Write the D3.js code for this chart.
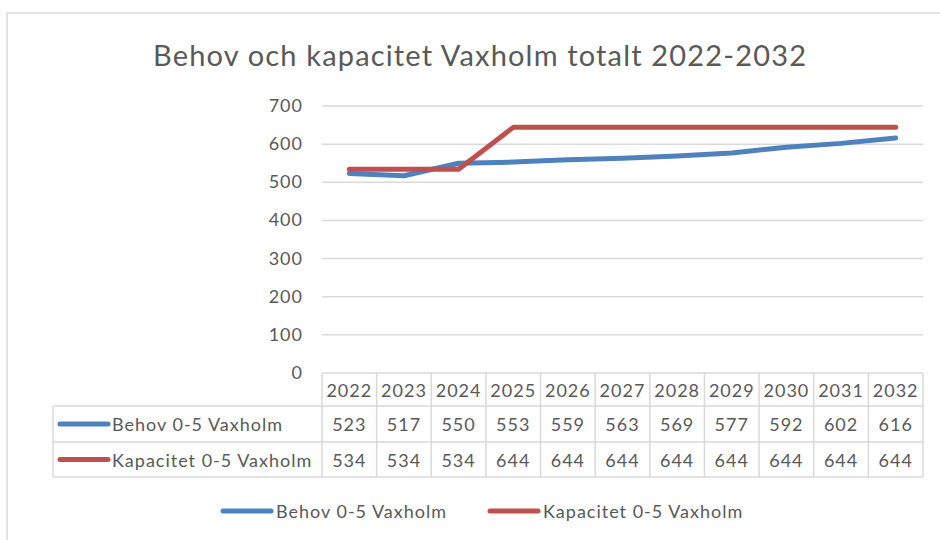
<!DOCTYPE html>
<html>
<head>
<meta charset="utf-8">
<script src="https://cdn.jsdelivr.net/npm/d3@7"></script>
<style>
  body { margin: 0; background: #fff; }
  text { font-family: Lato, "Open Sans", sans-serif; fill: #595959; }
  .lbl { font-size: 18px; letter-spacing: 1px; }
</style>
</head>
<body>
<div id="chart"></div>
<script>
// data
var years = ["2022","2023","2024","2025","2026","2027","2028","2029","2030","2031","2032"];
var behov = [523, 517, 550, 553, 559, 563, 569, 577, 592, 602, 616];
var kapacitet = [534, 534, 534, 644, 644, 644, 644, 644, 644, 644, 644];
var seriesNames = ["Behov 0-5 Vaxholm", "Kapacitet 0-5 Vaxholm"];
var seriesColors = ["#4f81bd", "#c0504d"];
var yTicks = [0, 100, 200, 300, 400, 500, 600, 700];

var W = 940, H = 540;
var plotL = 322, plotR = 923, plotT = 106, plotB = 373;
var rowH = [33, 36, 35];
var tableL = 53;
var grid = "#d9d9d9";

var svg = d3.select("#chart").append("svg")
  .attr("width", W).attr("height", H);

// outer frame
svg.append("rect")
  .attr("x", 7).attr("y", 13).attr("width", W + 10).attr("height", H)
  .attr("fill", "none").attr("stroke", grid).attr("stroke-width", 1.5);

svg.append("text")
  .attr("x", 153).attr("y", 66)
  .attr("textLength", 653).attr("lengthAdjust", "spacing")
  .style("font-size", "29px")
  .text("Behov och kapacitet Vaxholm totalt 2022-2032");

var x = d3.scaleBand().domain(years).range([plotL, plotR]);
var y = d3.scaleLinear().domain([0, 700]).range([plotB, plotT]);

// gridlines
svg.selectAll(".grid").data(yTicks.filter(function(d){ return d > 0; }))
  .enter().append("line")
  .attr("x1", plotL).attr("x2", plotR)
  .attr("y1", function(d){ return y(d); }).attr("y2", function(d){ return y(d); })
  .attr("stroke", grid).attr("stroke-width", 1.5);

svg.selectAll(".ylab").data(yTicks)
  .enter().append("text")
  .attr("class", "lbl")
  .attr("x", 303)
  .attr("y", function(d){ return y(d) + 6; })
  .attr("text-anchor", "end")
  .text(function(d){ return d; });

// lines
var line = d3.line()
  .x(function(d, i){ return x(years[i]) + x.bandwidth() / 2; })
  .y(function(d){ return y(d); });

[behov, kapacitet].forEach(function(s, k) {
  svg.append("path")
    .datum(s)
    .attr("d", line)
    .attr("fill", "none")
    .attr("stroke", seriesColors[k])
    .attr("stroke-width", 5)
    .attr("stroke-linejoin", "round")
    .attr("stroke-linecap", "round");
});

// data table
var r0 = plotB, r1 = r0 + rowH[0], r2 = r1 + rowH[1], r3 = r2 + rowH[2];
var tg = svg.append("g");

var colEdges = years.map(function(d){ return x(d); }).concat([plotR]);
tg.selectAll(".vcol").data(colEdges).enter().append("line")
  .attr("x1", function(d){ return d; }).attr("x2", function(d){ return d; })
  .attr("y1", r0).attr("y2", r3)
  .attr("stroke", grid).attr("stroke-width", 1.5);
tg.append("line").attr("x1", tableL).attr("x2", tableL).attr("y1", r1).attr("y2", r3)
  .attr("stroke", grid).attr("stroke-width", 1.5);
tg.append("line").attr("x1", plotL).attr("x2", plotR).attr("y1", r0).attr("y2", r0)
  .attr("stroke", grid).attr("stroke-width", 1.5);
[r1, r2, r3].forEach(function(r) {
  tg.append("line").attr("x1", tableL).attr("x2", plotR).attr("y1", r).attr("y2", r)
    .attr("stroke", grid).attr("stroke-width", 1.5);
});

tg.selectAll(".yr").data(years).enter().append("text")
  .attr("class", "lbl")
  .attr("x", function(d){ return x(d) + x.bandwidth() / 2; })
  .attr("y", r0 + rowH[0] / 2 + 7)
  .attr("text-anchor", "middle")
  .text(function(d){ return d; });

[behov, kapacitet].forEach(function(s, k) {
  var top = k === 0 ? r1 : r2;
  var mid = top + rowH[k + 1] / 2;
  tg.selectAll(".v" + k).data(s).enter().append("text")
    .attr("class", "lbl")
    .attr("x", function(d, i){ return x(years[i]) + x.bandwidth() / 2; })
    .attr("y", mid + 7)
    .attr("text-anchor", "middle")
    .text(function(d){ return d; });
  tg.append("line")
    .attr("x1", 60).attr("x2", 108).attr("y1", mid).attr("y2", mid)
    .attr("stroke", seriesColors[k]).attr("stroke-width", 5).attr("stroke-linecap", "round");
  tg.append("text")
    .attr("class", "lbl")
    .attr("x", 112).attr("y", mid + 7)
    .text(seriesNames[k]);
});

// bottom legend
var legX = [223, 490];
seriesNames.forEach(function(n, k) {
  svg.append("line")
    .attr("x1", legX[k]).attr("x2", legX[k] + 48).attr("y1", 511).attr("y2", 511)
    .attr("stroke", seriesColors[k]).attr("stroke-width", 5).attr("stroke-linecap", "round");
  svg.append("text")
    .attr("class", "lbl")
    .attr("x", legX[k] + 53).attr("y", 518)
    .text(n);
});
</script>
</body>
</html>
